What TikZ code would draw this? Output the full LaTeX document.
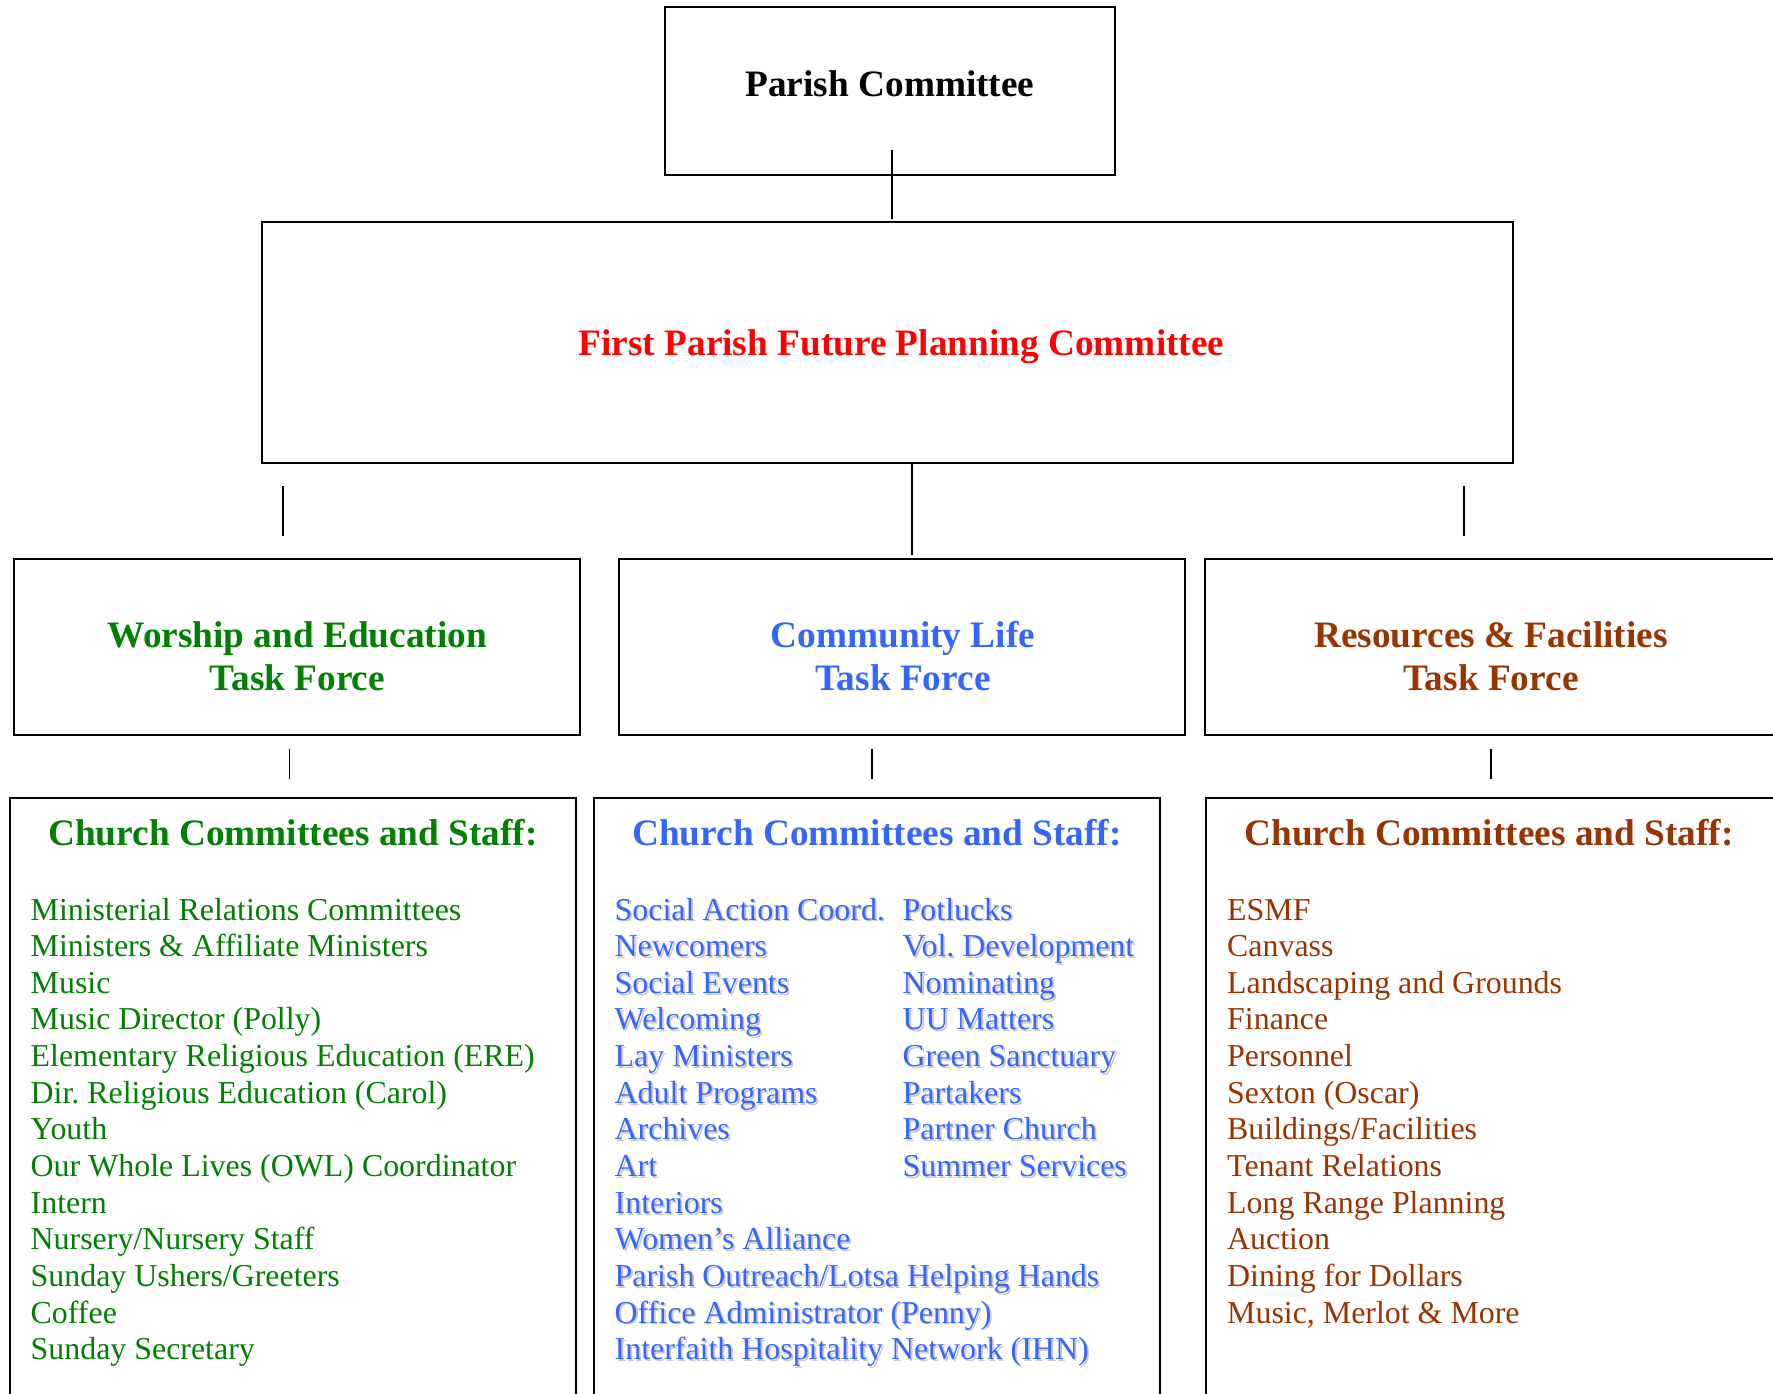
\documentclass[tikz,border=0pt]{standalone}
\usepackage{fontspec}
\setmainfont{Liberation Serif}
\usepackage{tikz}
\usetikzlibrary{positioning}
\definecolor{wgreen}{RGB}{0,128,0}
\definecolor{cblue}{RGB}{51,102,255}
\definecolor{rbrown}{RGB}{153,51,0}
\definecolor{shade}{RGB}{200,200,200}
\newcommand\shadowed[1]{\rlap{\kern1.8pt\raisebox{-1.8pt}{\color{shade}#1}}#1}
\frenchspacing

\begin{document}
\begin{tikzpicture}[
  x=1pt, y=-1pt,
  box/.style={
    draw, line width=2.5pt, inner sep=0pt
  },
  link/.style={line width=1.4pt},
  head/.style={
    font=\fontsize{37.3}{40}\selectfont\bfseries,
    inner sep=0pt, anchor=base
  },
  item/.style={
    font=\fontsize{31.9}{36}\selectfont,
    inner sep=0pt, anchor=base west
  }
]
  \useasboundingbox (0,0) rectangle (1773,1393);
  % boxes
  \node[box, minimum width=450pt, minimum height=168pt] (pc) at (890,91) {};
  \node[box, minimum width=1251pt, minimum height=241pt] (fp) at (887.5,342.5) {};
  \node[box, minimum width=566pt, minimum height=176pt] (wtf) at (297,647) {};
  \node[box, minimum width=566pt, minimum height=176pt] (ctf) at (902,647) {};
  \node[box, minimum width=600pt, minimum height=176pt] (rtf) at (1505,647) {};
  \node[box, minimum width=566pt, minimum height=652pt] (wcs) at (293,1124) {};
  \node[box, minimum width=566pt, minimum height=652pt] (ccs) at (877,1124) {};
  \node[box, minimum width=600pt, minimum height=652pt] (rcs) at (1506,1124) {};

  % titles
  \node[head] (pct) at (890,96) {Parish Committee};
  \node[head, text=red] (fpt) at (901.5,355) {First Parish Future Planning Committee};
  \node[head, text=wgreen] (wt1) at (297.5,647) {Worship and Education};
  \node[head, text=wgreen] (wt2) at (297.5,690) {Task Force};
  \node[head, text=cblue] (ct1) at (903,647) {Community Life};
  \node[head, text=cblue] (ct2) at (903,690) {Task Force};
  \node[head, text=rbrown] (rt1) at (1491,647) {Resources \& Facilities};
  \node[head, text=rbrown] (rt2) at (1491,690) {Task Force};
  \node[head, text=wgreen] (wh) at (293,845) {Church Committees and Staff:};
  \node[head, text=cblue] (ch) at (877,845) {Church Committees and Staff:};
  \node[head, text=rbrown] (rh) at (1489,845) {Church Committees and Staff:};

  % connectors
  \foreach \n/\x/\ya/\yb in {a/892/150/219, b/283/486/536, c/912/463/555,
      d/1464/486/536, e/289.5/749/779, f/872/749/779, g/1491/749/779} {
    \coordinate (\n1) at (\x,\ya);
    \coordinate (\n2) at (\x,\yb);
    \draw[link] (\n1) -- (\n2);
  }

  % lists
  \foreach \t [count=\i from 0] in {Ministerial Relations Committees,
      Ministers \& Affiliate Ministers, Music, Music Director (Polly),
      Elementary Religious Education (ERE), Dir. Religious Education (Carol),
      Youth, Our Whole Lives (OWL) Coordinator, Intern, Nursery/Nursery Staff,
      Sunday Ushers/Greeters, Coffee, Sunday Secretary} {
    \node[item, text=wgreen] (w\i) at (30.5,920+36.65*\i) {\t};
  }
  \foreach \t [count=\i from 0] in {Social Action Coord., Newcomers,
      Social Events, Welcoming, Lay Ministers, Adult Programs, Archives, Art,
      Interiors, Women’s Alliance, Parish Outreach/Lotsa Helping Hands,
      Office Administrator (Penny), Interfaith Hospitality Network (IHN)} {
    \node[item, text=cblue] (c\i) at (614.5,920+36.65*\i) {\shadowed{\t}};
  }
  \foreach \t [count=\i from 0] in {Potlucks, Vol. Development, Nominating,
      UU Matters, Green Sanctuary, Partakers, Partner Church, Summer Services} {
    \node[item, text=cblue] (k\i) at (902.5,920+36.65*\i) {\shadowed{\t}};
  }
  \foreach \t [count=\i from 0] in {ESMF, Canvass, Landscaping and Grounds,
      Finance, Personnel, Sexton (Oscar), Buildings/Facilities,
      Tenant Relations, Long Range Planning, Auction, Dining for Dollars,
      {Music, Merlot \& More}} {
    \node[item, text=rbrown] (r\i) at (1227,920+36.65*\i) {\t};
  }
\end{tikzpicture}
\end{document}
